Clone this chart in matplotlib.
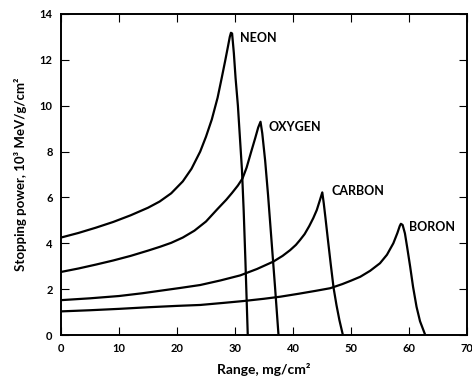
import matplotlib
matplotlib.use("Agg")
import matplotlib.pyplot as plt

plt.rcParams['font.family'] = ['Lato', 'DejaVu Sans']

# Data (range mg/cm^2, stopping power 10^3 MeV/g/cm^2)
neon_x = [0, 3, 6, 9, 12, 15, 17, 19, 21, 22.5, 24, 25, 26, 27, 27.7, 28.3, 28.8,
          29.1, 29.3, 29.5, 29.8, 30.1, 30.5, 30.9, 31.2, 31.5, 31.8, 32.2]
neon_y = [4.25, 4.45, 4.68, 4.93, 5.22, 5.55, 5.82, 6.18, 6.7, 7.25, 8.0, 8.65, 9.4,
          10.35, 11.2, 11.95, 12.6, 13.0, 13.18, 13.15, 12.3, 11.2, 10.0, 8.4, 7.2, 5.4, 3.2, 0]

oxygen_x = [0, 3, 6, 9, 12, 15, 17.1, 19, 21, 23, 25, 27, 28.5, 29.5, 30.5, 31.3,
            32.0, 32.8, 33.5, 34.0, 34.4, 34.7, 35.2, 35.7, 36.3, 36.9, 37.5]
oxygen_y = [2.75, 2.9, 3.07, 3.25, 3.45, 3.68, 3.85, 4.02, 4.25, 4.55, 4.95, 5.5,
            5.9, 6.2, 6.52, 6.83, 7.3, 8.0, 8.6, 9.05, 9.3, 8.8, 7.6, 6.1, 4.1, 2.1, 0]

carbon_x = [0, 5, 10, 14, 17.1, 20.5, 24, 27.5, 30.9, 33.8, 36.6, 38.2, 39.5, 40.5,
            41.2, 42.0, 42.8, 43.5, 44.1, 44.6, 45.05, 45.3, 45.6, 46.0, 46.5, 47.0,
            47.5, 48.0, 48.6]
carbon_y = [1.52, 1.6, 1.70, 1.82, 1.93, 2.05, 2.18, 2.38, 2.6, 2.88, 3.2, 3.45, 3.7,
            3.93, 4.14, 4.4, 4.75, 5.1, 5.45, 5.85, 6.22, 5.75, 5.1, 4.2, 3.1, 2.05,
            1.3, 0.65, 0]

boron_x = [0, 5, 10, 15, 20, 24, 28, 31.4, 35, 37.8, 41, 44, 46.4, 48.5, 50, 51.6,
           53.3, 55, 56.2, 57.3, 58.0, 58.4, 58.6, 58.9, 59.3, 59.7, 60.2, 60.7,
           61.3, 61.9, 62.8]
boron_y = [1.03, 1.08, 1.14, 1.21, 1.27, 1.31, 1.40, 1.48, 1.58, 1.67, 1.8, 1.93,
           2.04, 2.22, 2.37, 2.54, 2.8, 3.13, 3.5, 4.0, 4.45, 4.75, 4.85, 4.8, 4.43,
           3.8, 2.98, 2.1, 1.23, 0.6, 0]

series = [
    ("NEON", neon_x, neon_y, (30.9, 12.95)),
    ("OXYGEN", oxygen_x, oxygen_y, (35.7, 9.05)),
    ("CARBON", carbon_x, carbon_y, (46.6, 6.3)),
    ("BORON", boron_x, boron_y, (60.0, 4.72)),
]

x_ticks = [0, 10, 20, 30, 40, 50, 60, 70]
y_ticks = [0, 2, 4, 6, 8, 10, 12, 14]

fig = plt.figure(figsize=(4.72, 3.85), dpi=100)
ax = fig.add_axes([61 / 472, 50 / 385, 406 / 472, 321 / 385])

for name, xs, ys, (lx, ly) in series:
    ax.plot(xs, ys, color='black', lw=1.6, solid_joinstyle='round')
    ax.text(lx, ly, name, fontsize=9, fontweight='bold', ha='left', va='center')

ax.set_xlim(0, 70)
ax.set_ylim(0, 14)
ax.set_xticks(x_ticks)
ax.set_yticks(y_ticks)
ax.tick_params(direction='in', top=True, right=True, length=6, width=0.8,
               labelsize=8, pad=6)
for lab in ax.get_xticklabels() + ax.get_yticklabels():
    lab.set_fontweight('bold')
for s in ax.spines.values():
    s.set_linewidth(1.4)

ax.set_xlabel("Range, mg/cm²", fontsize=10, fontweight='bold', labelpad=6)
ax.set_ylabel("Stopping power, 10³ MeV/g/cm²", fontsize=9.5, fontweight='bold', labelpad=9)

fig.savefig("out.png", dpi=100)
